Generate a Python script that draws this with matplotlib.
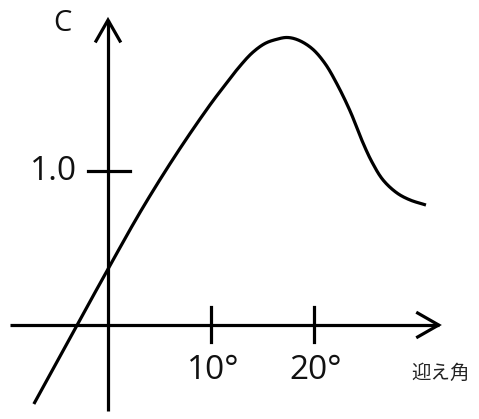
import numpy as np
import matplotlib
matplotlib.use("Agg")
import matplotlib.pyplot as plt

# Data: angle of attack (deg) vs lift coefficient C
alpha = [-7.2, -3.0, -0.1, 3.3, 6.7, 9.9, 11.36, 12.62, 13.98, 15.24, 16.31,
         17.38, 18.45, 19.81, 21.07, 22.23, 23.5, 24.76, 25.63, 26.7, 28.06,
         29.32, 30.87]
cl = [-0.513, 0.0, 0.351, 0.753, 1.117, 1.429, 1.558, 1.666, 1.766, 1.828, 1.854,
      1.867, 1.851, 1.795, 1.698, 1.565, 1.39, 1.182, 1.058, 0.942, 0.857,
      0.812, 0.779]
x_ticks = [10, 20]
x_tick_labels = ["10°", "20°"]
y_ticks = [1.0]
y_tick_labels = ["1.0"]
x_label = "迎え角"
y_label = "C"

plt.rcParams['font.family'] = ['Open Sans', 'Noto Sans CJK JP', 'DejaVu Sans']

W, H = 479, 419
fig = plt.figure(figsize=(W / 100, H / 100), dpi=100)
ax = fig.add_axes([0, 0, 1, 1])
# pixel scale: origin at (108, 325), 10.3 px/deg, 154 px per unit C
ax.set_xlim(-108 / 10.3, (W - 108) / 10.3)
ax.set_ylim(-(H - 325) / 154, 325 / 154)
ax.axis('off')

lw = 2.3
kx = 10.3  # px per deg
ky = 154   # px per unit

# axes
x0, x1 = -9.5, 32.1
y0, y1 = -0.56, 1.98
ax.plot([x0, x1], [0, 0], color='black', lw=lw, solid_capstyle='butt')
ax.plot([0, 0], [y0, y1], color='black', lw=lw, solid_capstyle='butt')
# arrow heads (open)
hl, hw = 21, 12  # px
ax.plot([x1 - hl / kx, x1, x1 - hl / kx], [hw / ky, 0, -hw / ky],
        color='black', lw=lw, solid_joinstyle='miter')
ax.plot([-hw / kx, 0, hw / kx], [y1 - hl / ky, y1, y1 - hl / ky],
        color='black', lw=lw, solid_joinstyle='miter')

# ticks
for xt, lab in zip(x_ticks, x_tick_labels):
    ax.plot([xt, xt], [18 / ky, -17 / ky], color='black', lw=lw)
    ax.text(xt + 0.2, -45 / ky, lab, fontsize=24, ha='center', va='center',
            color='#111111')
for yt, lab in zip(y_ticks, y_tick_labels):
    ax.plot([-20 / kx, 22 / kx], [yt, yt], color='black', lw=lw)
    ax.text(-31 / kx, yt, lab, fontsize=24, ha='right', va='center',
            color='#111111')

ax.text(-46 / kx, 302 / ky, y_label, fontsize=21, ha='center', va='center',
        color='#111111')
ax.text(333 / kx, -48 / ky, x_label, fontsize=14, ha='center', va='center',
        color='#222222', family=['Noto Sans CJK JP', 'DejaVu Sans'])

# curve: centripetal Catmull-Rom rendering through the data points
P = np.column_stack([np.array(alpha) * kx, np.array(cl) * ky])
P = np.vstack([2 * P[0] - P[1], P, 2 * P[-1] - P[-2]])
segs = []
for i in range(1, len(P) - 2):
    p0, p1, p2, p3 = P[i - 1], P[i], P[i + 1], P[i + 2]
    t0 = 0.0
    t1 = t0 + np.linalg.norm(p1 - p0) ** 0.5
    t2 = t1 + np.linalg.norm(p2 - p1) ** 0.5
    t3 = t2 + np.linalg.norm(p3 - p2) ** 0.5
    t = np.linspace(t1, t2, 25)[:, None]
    A1 = (t1 - t) / (t1 - t0) * p0 + (t - t0) / (t1 - t0) * p1
    A2 = (t2 - t) / (t2 - t1) * p1 + (t - t1) / (t2 - t1) * p2
    A3 = (t3 - t) / (t3 - t2) * p2 + (t - t2) / (t3 - t2) * p3
    B1 = (t2 - t) / (t2 - t0) * A1 + (t - t0) / (t2 - t0) * A2
    B2 = (t3 - t) / (t3 - t1) * A2 + (t - t1) / (t3 - t1) * A3
    C = (t2 - t) / (t2 - t1) * B1 + (t - t1) / (t2 - t1) * B2
    segs.append(C)
S = np.vstack(segs)
ax.plot(S[:, 0] / kx, S[:, 1] / ky, color='black', lw=lw, solid_capstyle='butt')

fig.savefig("out.png", dpi=100, facecolor='white')
